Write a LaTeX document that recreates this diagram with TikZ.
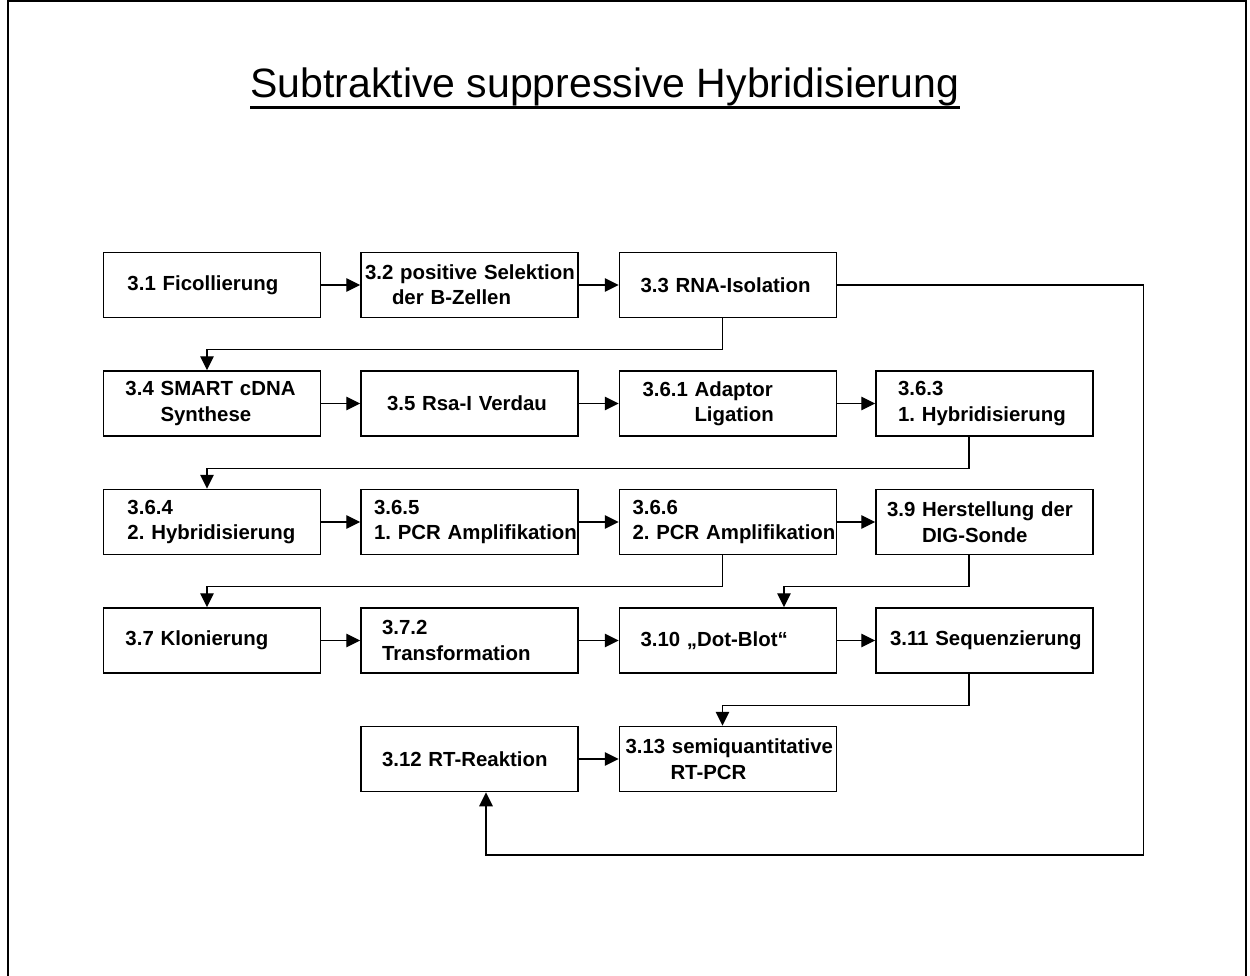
\documentclass[tikz,border=0pt]{standalone}
\usepackage{fontspec}
\setmainfont{Liberation Sans}
\usepackage{tikz}
\usetikzlibrary{arrows.meta}
\usetikzlibrary{calc}
\setlength{\parindent}{0pt}
\frenchspacing

\tikzset{stepbox/.style={draw, line width=0.75pt, minimum width=108.5pt, minimum height=32.5pt,
        text width=108.5pt, inner xsep=0pt, inner ysep=2pt, align=left,
        font=\bfseries\fontsize{10.2}{12.7}\selectfont}}
\tikzset{arr/.style={-{Triangle[length=7pt,width=6.8pt]}, line width=0.7pt}}
\newcommand{\ind}[1]{\hspace*{#1pt}}

\begin{document}
\begin{tikzpicture}[x=0.5pt,y=-0.5pt]
            \useasboundingbox (0,0) rectangle (1250,976);
            \draw[line width=1.2pt] (8,976) -- (8,1.2) -- (1246,1.2) -- (1246,976);

            \node[anchor=base west, inner sep=0pt, font=\fontsize{20.5}{24}\selectfont] (title) at (250,97) {Subtraktive suppressive Hybridisierung};
            \draw[line width=1.5pt] ([yshift=-1pt]title.south west) -- ([yshift=-1pt]title.south east);

            \draw (212,285) node[stepbox]      (s31) {\ind{12}3.1 Ficollierung};
            \draw (469.5,285) node[stepbox]    (s32) {\ind{2}3.2 positive Selektion\\\ind{15.5}der B-Zellen};
            \draw (728,285) node[stepbox]      (s33) {\ind{10.5}3.3 RNA-Isolation};

            \draw (212,403.5) node[stepbox]    (s34) {\ind{11}3.4 SMART cDNA\\\ind{28.5}Synthese};
            \draw (469.5,403.5) node[stepbox]  (s35) {\ind{13}3.5 Rsa-I Verdau};
            \draw (728,403.5) node[stepbox]    (s361) {\ind{11.5}3.6.1 Adaptor\\\ind{37.5}Ligation};
            \draw (984.5,403.5) node[stepbox]  (s363) {\ind{11}3.6.3\\\ind{11}1. Hybridisierung};

            \draw (212,522) node[stepbox]      (s364) {\ind{12}3.6.4\\\ind{12}2. Hybridisierung};
            \draw (469.5,522) node[stepbox]    (s365) {\ind{6.5}3.6.5\\\ind{6.5}1. PCR Amplifikation};
            \draw (728,522) node[stepbox]      (s366) {\ind{6.5}3.6.6\\\ind{6.5}2. PCR Amplifikation};
            \draw (984.5,522) node[stepbox]    (s39) {\ind{5.5}3.9 Herstellung der\\\ind{23}DIG-Sonde};

            \draw (212,640.5) node[stepbox]    (s37) {\ind{11}3.7 Klonierung};
            \draw (469.5,640.5) node[stepbox]  (s372) {\ind{10.5}3.7.2\\\ind{10.5}Transformation};
            \draw (728,640.5) node[stepbox]    (s310) {\ind{10.5}3.10 „Dot-Blot“};
            \draw (984.5,640.5) node[stepbox]  (s311) {\ind{7}3.11 Sequenzierung};

            \draw (469.5,759) node[stepbox]    (s312) {\ind{10.5}3.12 RT-Reaktion};
            \draw (728,759) node[stepbox]      (s313) {\ind{3}3.13 semiquantitative\\\ind{25.5}RT-PCR};

            % rows
            \draw[arr] (s31) -- (s32);
            \draw[arr] (s32) -- (s33);
            \draw[arr] (s34) -- (s35);
            \draw[arr] (s35) -- (s361);
            \draw[arr] (s361) -- (s363);
            \draw[arr] (s364) -- (s365);
            \draw[arr] (s365) -- (s366);
            \draw[arr] (s366) -- (s39);
            \draw[arr] (s37) -- (s372);
            \draw[arr] (s372) -- (s310);
            \draw[arr] (s310) -- (s311);
            \draw[arr] (s312) -- (s313);

            % row to row
            \draw[arr] ([xshift=-2.75pt]s33.south) -- ++(0,31) -| ([xshift=-2.5pt]s34.north);
            \draw[arr] ([xshift=-7.75pt]s363.south) -- ++(0,32) -| ([xshift=-2.5pt]s364.north);
            \draw[arr] ([xshift=-2.75pt]s366.south) -- ++(0,31.5) -| ([xshift=-2.5pt]s37.north);
            \draw[arr] ([xshift=-7.75pt]s39.south) -- ++(0,31.5) -| ([xshift=28pt]s310.north);
            \draw[arr] ([xshift=-7.75pt]s311.south) -- ++(0,32) -| ([xshift=-2.75pt]s313.north);
            \draw[arr] (s33.east) -| ++(306,570) -| ([xshift=8.25pt]s312.south);

\end{tikzpicture}
\end{document}
